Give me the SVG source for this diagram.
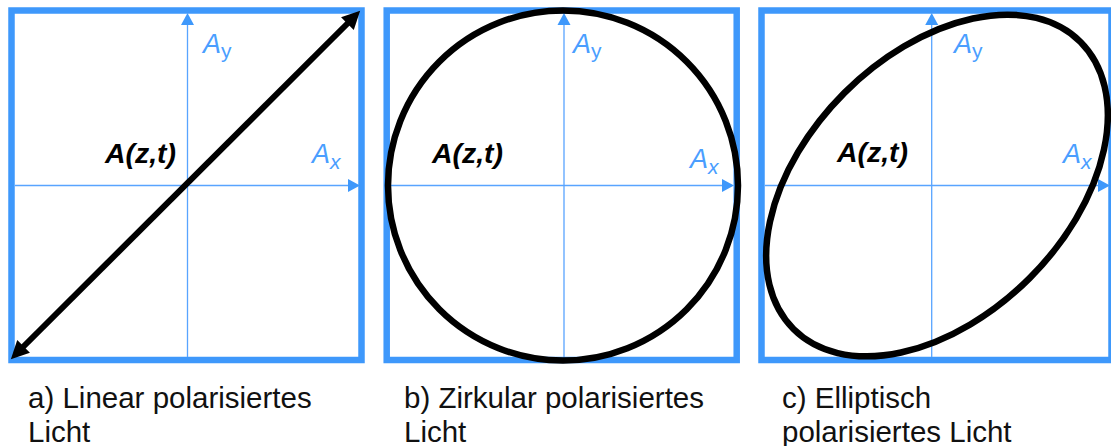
<svg xmlns="http://www.w3.org/2000/svg" width="1111" height="446" viewBox="0 0 1111 446">
<style>
.frame{fill:none;stroke:#3e98fb;stroke-width:6.5}
.axis{stroke:#58a4ff;stroke-width:1.3;fill:none}
.ahead{fill:#3e98fb}
.curve{fill:none;stroke:#000;stroke-width:6.5}
.lbl{font-family:"Liberation Sans",Arial,sans-serif;font-weight:bold;font-style:italic;font-size:27px;fill:#000}
.ax{font-family:"Liberation Sans",Arial,sans-serif;font-size:27px;fill:#4a9eff}
.sub{font-size:21px}
.cap{font-family:"Liberation Sans",Arial,sans-serif;font-size:29.5px;fill:#111}
</style>
<defs>
<marker id="blk" viewBox="0 0 10 10" refX="4" refY="5" markerWidth="21" markerHeight="18" markerUnits="userSpaceOnUse" orient="auto-start-reverse">
<path d="M0,0 L10,5 L0,10 z" fill="#000"/>
</marker>
</defs>

<g id="panel-a">
<rect class="frame" x="11.5" y="10.5" width="350" height="349.5"/>
<line class="axis" x1="187.5" y1="357" x2="187.5" y2="24"/>
<polygon class="ahead" points="187.5,13 181,25 194,25"/>
<line class="axis" x1="15" y1="185.5" x2="349" y2="185.5"/>
<polygon class="ahead" points="360,185.5 348,179 348,192"/>
<text class="lbl" x="105" y="163" textLength="71" lengthAdjust="spacingAndGlyphs">A(z,t)</text>
<text class="ax" x="203" y="53"><tspan font-style="italic">A</tspan><tspan class="sub" dy="5">y</tspan></text>
<text class="ax" x="312" y="163"><tspan font-style="italic">A</tspan><tspan class="sub" font-style="italic" dy="6">x</tspan></text>
</g>

<g id="panel-b">
<rect class="frame" x="386.7" y="10.5" width="350" height="349.5"/>
<line class="axis" x1="564" y1="357" x2="564" y2="24"/>
<polygon class="ahead" points="564,13 557.5,25 570.5,25"/>
<line class="axis" x1="390" y1="185.5" x2="723" y2="185.5"/>
<polygon class="ahead" points="734,185.5 722,179 722,192"/>
<text class="lbl" x="432" y="163" textLength="71" lengthAdjust="spacingAndGlyphs">A(z,t)</text>
<text class="ax" x="573" y="53"><tspan font-style="italic">A</tspan><tspan class="sub" dy="5">y</tspan></text>
<text class="ax" x="690" y="168"><tspan font-style="italic">A</tspan><tspan class="sub" font-style="italic" dy="6">x</tspan></text>
</g>

<g id="panel-c">
<rect class="frame" x="761.5" y="10.5" width="350" height="349.5"/>
<line class="axis" x1="931.7" y1="357" x2="931.7" y2="24"/>
<polygon class="ahead" points="931.7,13 925.2,25 938.2,25"/>
<line class="axis" x1="765" y1="185.5" x2="1098" y2="185.5"/>
<polygon class="ahead" points="1110,185.5 1098,179 1098,192"/>
<text class="lbl" x="837" y="162" textLength="71" lengthAdjust="spacingAndGlyphs">A(z,t)</text>
<text class="ax" x="954" y="53"><tspan font-style="italic">A</tspan><tspan class="sub" dy="5">y</tspan></text>
<text class="ax" x="1063" y="163"><tspan font-style="italic">A</tspan><tspan class="sub" font-style="italic" dy="6">x</tspan></text>
</g>

<g id="connectors">
<line x1="18.5" y1="351.5" x2="352.5" y2="18.5" stroke="#000" stroke-width="6" marker-start="url(#blk)" marker-end="url(#blk)"/>
<circle class="curve" cx="563" cy="185.5" r="175"/>
<ellipse class="curve" cx="937" cy="185.5" rx="203" ry="131" transform="rotate(-45 937 185.5)"/>
</g>

<g id="captions">
<text class="cap" x="28" y="408">a) Linear polarisiertes</text>
<text class="cap" x="28" y="442">Licht</text>
<text class="cap" x="404" y="408">b) Zirkular polarisiertes</text>
<text class="cap" x="404" y="442">Licht</text>
<text class="cap" x="782" y="408">c) Elliptisch</text>
<text class="cap" x="782" y="442">polarisiertes Licht</text>
</g>
</svg>
